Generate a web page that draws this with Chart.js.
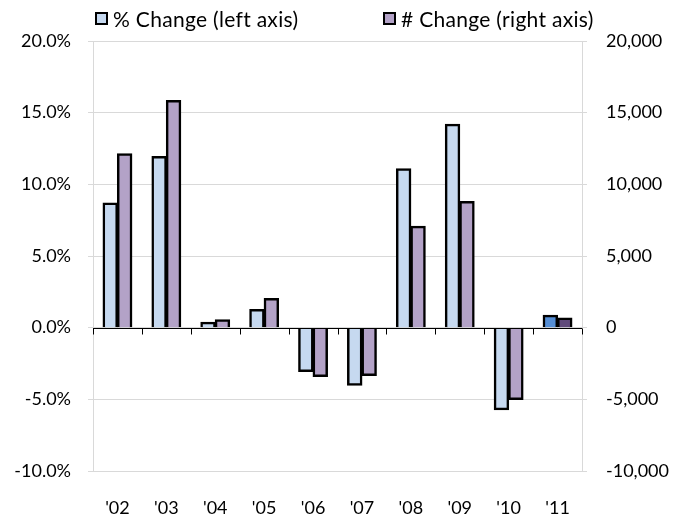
<!DOCTYPE html>
<html>
<head>
<meta charset="utf-8">
<script src="https://cdn.jsdelivr.net/npm/chart.js@4/dist/chart.umd.min.js"></script>
<style>
  html, body { margin: 0; padding: 0; background: #fff; }
  #wrap { position: relative; width: 683px; height: 517px; }
  #chart { position: absolute; left: 0; top: 0; }
  .legend { position: absolute; top: 5px; height: 26px; font: 21px Lato, "DejaVu Sans", sans-serif; letter-spacing: 0.3px; color: #000; white-space: nowrap; display: flex; align-items: center; }
  .legend .box { display: inline-block; width: 9px; height: 9px; border: 2.5px solid #000; margin-right: 5px; }
</style>
</head>
<body>
<div id="wrap">
  <canvas id="chart" width="683" height="517"></canvas>
  <div class="legend" style="left:95px"><span class="box" style="background:#C6D9F0"></span>% Change (left axis)</div>
  <div class="legend" style="left:383px"><span class="box" style="background:#B3A2C7"></span># Change (right axis)</div>
</div>
<script>
// Year labels along the bottom
const years = ["'02", "'03", "'04", "'05", "'06", "'07", "'08", "'09", "'10", "'11"];
// Year-over-year percent change (left axis, in %)
const pctChange = [8.7, 11.95, 0.37, 1.26, -3.05, -4.02, 11.09, 14.2, -5.72, 0.86];
// Year-over-year absolute change (right axis)
const numChange = [12130, 15850, 560, 2040, -3400, -3330, 7070, 8810, -5020, 680];
// Axis tick settings
const pctTicks = { min: -10, max: 20, step: 5 };
const numTicks = { min: -10000, max: 20000, step: 5000 };

// The latest year is highlighted in darker shades
const pctColors = years.map((y, i) => i === years.length - 1 ? '#558ED5' : '#C6D9F0');
const numColors = years.map((y, i) => i === years.length - 1 ? '#604A7B' : '#B3A2C7');

const FONT = { family: 'Lato, "DejaVu Sans", sans-serif', size: 18 };

// Black zero baseline with short tick marks between the years
const zeroAxis = {
  id: 'zeroAxis',
  afterDatasetsDraw(chart) {
    const { ctx, chartArea, scales } = chart;
    const y0 = Math.round(scales.y.getPixelForValue(0)) + 0.5;
    ctx.save();
    ctx.strokeStyle = '#000';
    ctx.lineWidth = 1;
    ctx.beginPath();
    ctx.moveTo(chartArea.left, y0);
    ctx.lineTo(chartArea.right, y0);
    const n = years.length;
    const w = (chartArea.right - chartArea.left) / n;
    for (let i = 0; i <= n; i++) {
      const px = Math.round(chartArea.left + i * w) + 0.5;
      ctx.moveTo(px, y0);
      ctx.lineTo(px, y0 + 6);
    }
    ctx.stroke();
    ctx.restore();
  }
};

new Chart(document.getElementById('chart'), {
  type: 'bar',
  data: {
    labels: years,
    datasets: [
      { label: '% Change (left axis)', data: pctChange, yAxisID: 'y', backgroundColor: pctColors, borderColor: '#000', borderWidth: 2.5 },
      { label: '# Change (right axis)', data: numChange, yAxisID: 'y2', backgroundColor: numColors, borderColor: '#000', borderWidth: 2.5 }
    ]
  },
  options: {
    responsive: false,
    animation: false,
    layout: { padding: { top: 41, left: 0, right: 0, bottom: 0 } },
    datasets: { bar: { categoryPercentage: 0.59, barPercentage: 1.0, inflateAmount: 0.5 } },
    plugins: { legend: { display: false }, tooltip: { enabled: false } },
    scales: {
      x: {
        grid: { display: false },
        border: { display: false },
        ticks: { color: '#000', font: FONT, padding: 18 },
        afterFit(s) { s.height = 46; }
      },
      y: {
        position: 'left',
        min: pctTicks.min, max: pctTicks.max,
        grid: { color: '#d9d9d9', lineWidth: 1, tickLength: 5 },
        border: { display: true, color: '#d9d9d9', width: 1 },
        ticks: { stepSize: pctTicks.step, color: '#000', font: FONT, padding: 17, callback: v => v.toFixed(1) + '%' },
        afterFit(s) { s.width = 93; }
      },
      y2: {
        position: 'right',
        min: numTicks.min, max: numTicks.max,
        grid: { drawOnChartArea: false, color: '#d9d9d9', tickLength: 5 },
        border: { display: true, color: '#d9d9d9', width: 1 },
        ticks: { stepSize: numTicks.step, color: '#000', font: FONT, padding: 19, callback: v => v.toLocaleString('en-US') },
        afterFit(s) { s.width = 101; }
      }
    }
  },
  plugins: [zeroAxis]
});
</script>
</body>
</html>
